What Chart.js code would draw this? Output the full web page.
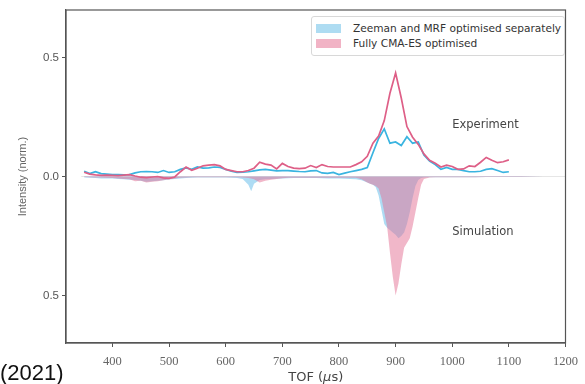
<!DOCTYPE html>
<html>
<head>
<meta charset="utf-8">
<script src="https://cdn.jsdelivr.net/npm/chart.js@4"></script>
<style>
  html, body { margin: 0; padding: 0; background: #fff; }
  #wrap { position: relative; width: 585px; height: 384px; overflow: hidden; }
  #legend {
    position: absolute; left: 311px; top: 16px; width: 254px; height: 40px;
    border: 1px solid #d8d8d8; border-radius: 3px; background: #fff;
    font-family: "DejaVu Sans", sans-serif; font-size: 10.6px; color: #333;
    box-sizing: border-box; padding: 4px 0 0 4px;
  }
  .item { height: 15px; line-height: 15px; white-space: nowrap; }
  .swatch { display: inline-block; width: 25px; height: 9px; margin-right: 12px; vertical-align: -1px; }
  #year {
    position: absolute; left: 0; top: 360px;
    font-family: "Liberation Sans", Arial, sans-serif; font-size: 22px; color: #111;
  }
</style>
</head>
<body>
<div id="wrap">
  <canvas id="chart" width="585" height="384"></canvas>
  <div id="legend">
    <div class="item"><span class="swatch" style="background:#aedcf2"></span>Zeeman and MRF optimised separately</div>
    <div class="item"><span class="swatch" style="background:#f1b3c5"></span>Fully CMA-ES optimised</div>
  </div>
  <div id="year">(2021)</div>
</div>
<script>
// experiment (measured) TOF traces
const expTof = [350,360,370,380,390,400,410,420,430,440,450,460,470,480,490,500,510,520,530,540,
  550,560,570,580,590,600,610,620,630,640,650,660,670,680,690,700,710,720,730,740,
  750,760,770,780,790,800,810,820,830,840,850,860,870,880,890,900,910,920,930,940,
  950,960,970,980,990,1000,1010,1020,1030,1040,1050,1060,1070,1080,1090,1100];
const expSeparate = [0.022,0.012,0.02,0.012,0.01,0.008,0.008,0.007,0.008,0.015,0.02,0.021,0.02,0.017,0.025,0.017,0.02,0.03,0.036,0.03,
  0.04,0.035,0.036,0.04,0.038,0.03,0.022,0.017,0.018,0.02,0.024,0.028,0.03,0.027,0.024,0.025,0.025,0.023,0.021,0.02,
  0.024,0.025,0.015,0.013,0.017,0.008,0.014,0.02,0.025,0.03,0.038,0.1,0.16,0.2,0.14,0.145,0.13,0.167,0.14,0.145,
  0.09,0.065,0.05,0.03,0.038,0.03,0.03,0.025,0.02,0.02,0.022,0.03,0.033,0.025,0.017,0.02];
const expCma = [0.018,0.01,0.007,0.005,0.006,0.005,0.004,0.006,0.008,0.002,-0.003,-0.005,-0.002,0.0,-0.006,-0.008,-0.002,0.02,0.04,0.026,
  0.035,0.045,0.048,0.05,0.045,0.03,0.025,0.02,0.02,0.025,0.035,0.06,0.052,0.048,0.032,0.055,0.042,0.035,0.033,0.035,
  0.046,0.038,0.05,0.042,0.04,0.04,0.04,0.04,0.05,0.062,0.085,0.14,0.17,0.235,0.35,0.435,0.33,0.21,0.165,0.135,
  0.095,0.068,0.056,0.04,0.048,0.042,0.03,0.032,0.045,0.042,0.06,0.08,0.068,0.058,0.062,0.07];

// simulated traces (plotted downwards)
const simTof = [350,360,370,380,390,400,410,420,430,440,450,460,470,480,490,500,510,520,530,540,
  550,560,570,580,590,600,610,620,630,640,645,650,660,670,680,690,700,710,720,730,
  740,750,760,770,780,790,800,810,820,830,840,850,855,860,865,870,875,880,885,890,
  895,900,905,910,915,920,925,930,935,940,945,950,960,970,980,990,1000,1020,1040,1060,
  1080,1100,1120,1140,1160];
const simSeparate = [-0.004,-0.005,-0.006,-0.008,-0.008,-0.008,-0.01,-0.012,-0.014,-0.015,-0.018,-0.022,-0.02,-0.018,-0.016,-0.013,-0.01,-0.008,-0.006,-0.005,
  -0.004,-0.004,-0.004,-0.004,-0.004,-0.004,-0.005,-0.006,-0.01,-0.035,-0.062,-0.03,-0.015,-0.012,-0.01,-0.009,-0.008,-0.007,-0.006,-0.006,
  -0.006,-0.006,-0.006,-0.007,-0.008,-0.008,-0.008,-0.009,-0.01,-0.012,-0.016,-0.025,-0.03,-0.035,-0.045,-0.08,-0.14,-0.2,-0.215,-0.225,
  -0.235,-0.245,-0.26,-0.25,-0.235,-0.2,-0.15,-0.09,-0.04,-0.015,-0.006,-0.004,-0.003,-0.003,-0.003,-0.003,-0.003,-0.003,-0.003,-0.002,
  -0.002,-0.002,-0.002,-0.001,0];
const simCma = [-0.002,-0.003,-0.004,-0.004,-0.005,-0.006,-0.008,-0.01,-0.012,-0.02,-0.018,-0.025,-0.022,-0.02,-0.016,-0.012,-0.008,-0.005,-0.004,-0.003,
  -0.003,-0.003,-0.003,-0.003,-0.003,-0.003,-0.003,-0.003,-0.004,-0.006,-0.008,-0.012,-0.025,-0.018,-0.014,-0.01,-0.007,-0.005,-0.005,-0.005,
  -0.005,-0.005,-0.005,-0.005,-0.005,-0.005,-0.005,-0.005,-0.005,-0.005,-0.012,-0.025,-0.03,-0.035,-0.04,-0.05,-0.09,-0.15,-0.21,-0.32,
  -0.42,-0.5,-0.45,-0.37,-0.3,-0.28,-0.26,-0.21,-0.15,-0.09,-0.035,-0.01,-0.004,-0.003,-0.003,-0.003,-0.003,-0.003,-0.003,-0.002,
  -0.002,-0.002,-0.002,-0.001,0];

const xTicks = [400,500,600,700,800,900,1000,1100,1200];
const yTicks = [-0.5,0,0.5];

const pts = (xs, ys) => xs.map((x, i) => ({x: x, y: ys[i]}));

// box around the plot, x title with italic mu, text labels
const framePlugin = {
  id: 'frame',
  afterDraw(chart) {
    const {ctx, chartArea: a, scales} = chart;
    ctx.save();
    ctx.strokeStyle = '#555';
    ctx.lineWidth = 1.2;
    ctx.strokeRect(a.left, a.top, a.right - a.left, a.bottom - a.top);

    ctx.fillStyle = '#444';
    ctx.font = '11.5px "DejaVu Sans", sans-serif';
    ctx.textAlign = 'left';
    ctx.textBaseline = 'middle';
    ctx.fillText('Experiment', scales.x.getPixelForValue(1000), scales.y.getPixelForValue(0.218));
    ctx.fillText('Simulation', scales.x.getPixelForValue(1000), scales.y.getPixelForValue(-0.233));

    // x axis title
    const parts = [['TOF (', 'normal'], ['μ', 'italic'], ['s)', 'normal']];
    let w = 0;
    parts.forEach(p => { ctx.font = p[1] + ' 13px "DejaVu Sans", sans-serif'; w += ctx.measureText(p[0]).width; });
    let x = (a.left + a.right) / 2 - w / 2;
    ctx.fillStyle = '#444';
    parts.forEach(p => {
      ctx.font = p[1] + ' 13px "DejaVu Sans", sans-serif';
      ctx.fillText(p[0], x, 378);
      x += ctx.measureText(p[0]).width;
    });
    ctx.restore();
  }
};

new Chart(document.getElementById('chart'), {
  type: 'line',
  data: {
    datasets: [
      {
        data: pts(expTof, expCma),
        borderColor: '#de5f87', borderWidth: 1.7, pointRadius: 0, fill: false, tension: 0
      },
      {
        data: pts(expTof, expSeparate),
        borderColor: '#3ab4e0', borderWidth: 1.7, pointRadius: 0, fill: false, tension: 0
      },
      {
        label: 'Fully CMA-ES optimised',
        data: pts(simTof, simCma),
        borderWidth: 0, pointRadius: 0, tension: 0,
        backgroundColor: 'rgba(228,112,148,0.5)', fill: 'origin'
      },
      {
        label: 'Zeeman and MRF optimised separately',
        data: pts(simTof, simSeparate),
        borderWidth: 0, pointRadius: 0, tension: 0,
        backgroundColor: 'rgba(140,205,240,0.7)', fill: 'origin'
      },
      {
        data: [{x: 345, y: 0}, {x: 1200, y: 0}],
        borderColor: '#e6e6e6', borderWidth: 1, pointRadius: 0, fill: false
      }
    ]
  },
  options: {
    responsive: false,
    animation: false,
    layout: { padding: { top: 10, right: 15, left: 0, bottom: 0 } },
    plugins: { legend: { display: false }, tooltip: { enabled: false } },
    scales: {
      x: {
        type: 'linear', min: 318, max: 1200,
        afterBuildTicks: s => { s.ticks = xTicks.map(v => ({value: v})); },
        afterFit: s => { s.height = 41; },
        grid: { drawOnChartArea: false, tickLength: 4, color: '#555' },
        border: { color: '#555', width: 1.2 },
        ticks: { color: '#666', font: { family: '"Liberation Serif", serif', size: 12.5 }, padding: 7, maxRotation: 0, autoSkip: false,
          callback: v => String(v) }
      },
      y: {
        type: 'linear', min: -0.7, max: 0.7,
        afterBuildTicks: s => { s.ticks = yTicks.map(v => ({value: v})); },
        afterFit: s => { s.width = 66; },
        grid: { drawOnChartArea: false, tickLength: 4, color: '#555' },
        border: { color: '#555', width: 1.2 },
        ticks: { color: '#555', font: { family: '"Liberation Sans", sans-serif', size: 11.5 }, padding: 3,
          callback: v => Math.abs(v).toFixed(1) },
        title: { display: true, text: 'Intensity (norm.)', color: '#666', font: { family: '"Liberation Sans", sans-serif', size: 11 }, padding: { top: 16, bottom: 0 } }
      }
    }
  },
  plugins: [framePlugin]
});
</script>
</body>
</html>
